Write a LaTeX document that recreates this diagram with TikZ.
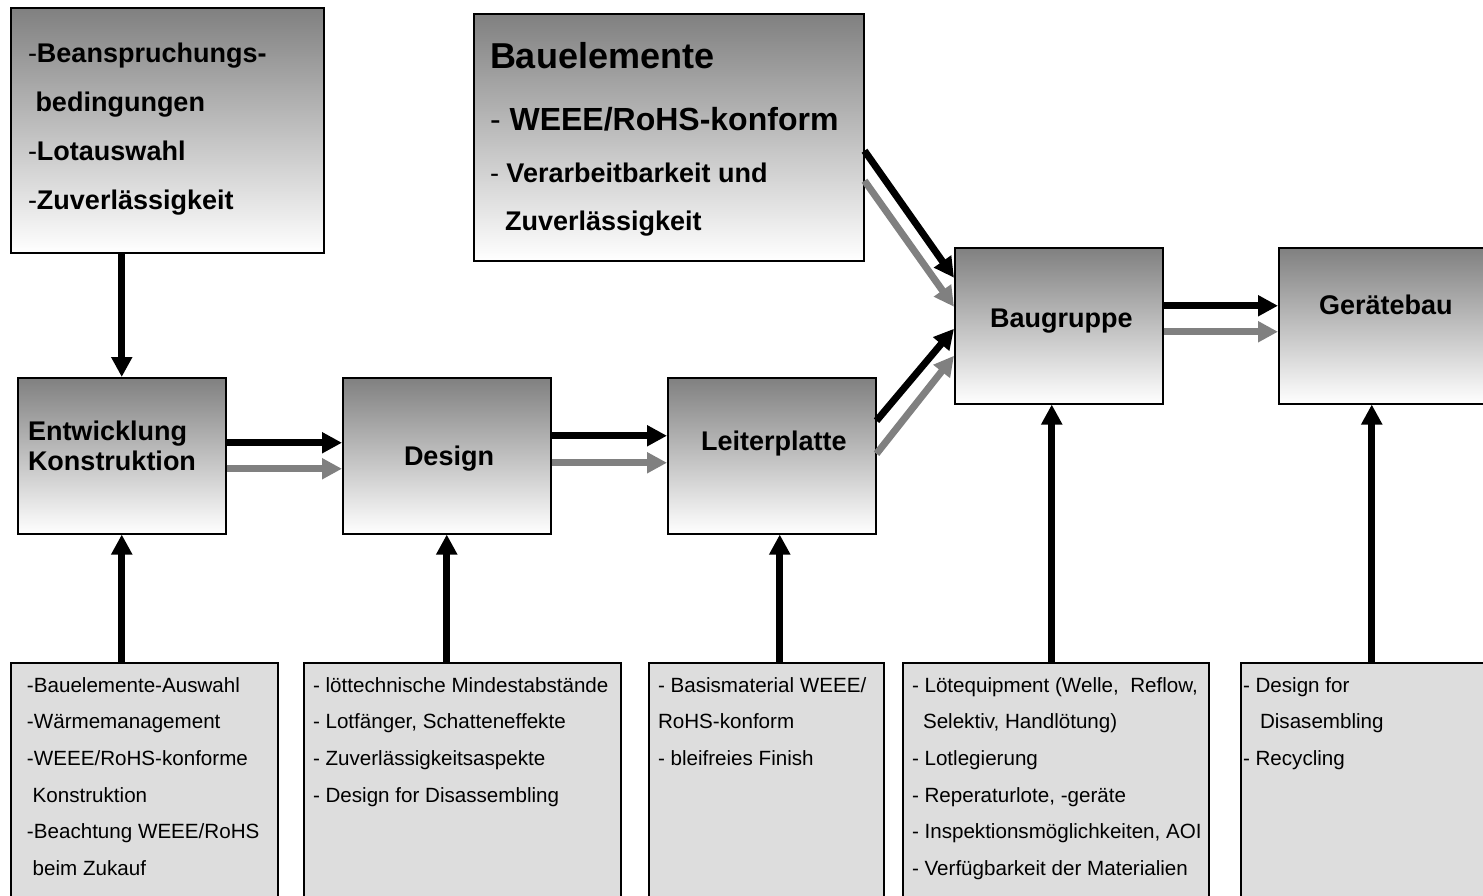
\documentclass[tikz,border=0pt]{standalone}
\usepackage{fontspec}
\setmainfont{Liberation Sans}
\usetikzlibrary{arrows.meta,calc}
\definecolor{gmid}{RGB}{128,128,128}
\definecolor{glight}{RGB}{221,221,221}
\tikzset{
  gbox/.style={draw=black, line width=1.5pt, top color=gmid, bottom color=white, inner sep=0pt, anchor=north west},
  lbox/.style={draw=black, line width=1.5pt, fill=glight, inner sep=0pt, anchor=north west},
  tx/.style={anchor=base west, inner sep=0pt, outer sep=0pt},
  big/.style={font=\fontsize{27}{49.3}\selectfont\bfseries},
  head/.style={font=\fontsize{27}{30}\selectfont\bfseries},
  small/.style={font=\fontsize{20.6}{36.7}\selectfont},
  blk/.style={line width=7pt, draw=black, -{Triangle[length=20pt,width=20pt]}},
  gry/.style={line width=7pt, draw=gmid, -{Triangle[length=20pt,width=20pt]}},
}
\begin{document}
\begin{tikzpicture}[x=1pt,y=-1pt]
\useasboundingbox (0,0) rectangle (1483,895);
\fill[white] (0,0) rectangle (1483,895);
\clip (0,0) rectangle (1483,895);

% top boxes
\node[gbox, minimum width=313pt, minimum height=245pt] (A) at (10,7) {};
\node[gbox, minimum width=390pt, minimum height=247pt] (bau) at (473,13) {};

% middle row
\node[gbox, minimum width=208pt, minimum height=156pt] (ent) at (17,377) {};
\node[gbox, minimum width=208pt, minimum height=156pt] (des) at (342,377) {};
\node[gbox, minimum width=208pt, minimum height=156pt] (lp) at (667,377) {};
\node[gbox, minimum width=208pt, minimum height=156pt] (bg) at (954,247) {};
\node[gbox, minimum width=208pt, minimum height=156pt] (gb) at (1278,247) {};

% bottom boxes
\node[lbox, minimum width=267pt, minimum height=260pt] (b1) at (10,662) {};
\node[lbox, minimum width=317pt, minimum height=260pt] (b2) at (303,662) {};
\node[lbox, minimum width=235pt, minimum height=260pt] (b3) at (648,662) {};
\node[lbox, minimum width=306pt, minimum height=260pt] (b4) at (902,662) {};
\node[lbox, minimum width=300pt, minimum height=260pt] (b5) at (1240,662) {};

% texts in top-left box
\node[tx, big] (ta) at (28,62) {\vtop{%
  \hbox{\mdseries-\bfseries Beanspruchungs-}
  \hbox{ bedingungen}
  \hbox{\mdseries-\bfseries Lotauswahl}
  \hbox{\mdseries-\bfseries Zuverl\"assigkeit}}};

% texts in Bauelemente box
\node[tx, font=\fontsize{36}{40}\selectfont\bfseries] (tb1) at (490,68) {Bauelemente};
\node[tx, font=\fontsize{32}{36}\selectfont\bfseries] (tb2) at (490,130) {\mdseries- \bfseries WEEE/RoHS-konform};
\node[tx, font=\fontsize{27}{30}\selectfont\bfseries] (tb3) at (490,182) {\mdseries- \bfseries Verarbeitbarkeit und};
\node[tx, font=\fontsize{27}{30}\selectfont\bfseries] (tb4) at (505,230) {Zuverl\"assigkeit};

% headings
\node[tx, head] (tent) at (28,440) {\vtop{\hbox{Entwicklung}\hbox{Konstruktion}}};
\node[tx, head] (tdes) at (404,465) {Design};
\node[tx, head] (tlp) at (701,450) {Leiterplatte};
\node[tx, head] (tbg) at (990,327) {Baugruppe};
\node[tx, head] (tgb) at (1319,314) {Ger\"atebau};

% bottom texts
\node[tx, small] (t1) at (27,692) {\vtop{%
  \hbox{-Bauelemente-Auswahl}
  \hbox{-W\"armemanagement}
  \hbox{-WEEE/RoHS-konforme}
  \hbox{\hspace*{5.7pt}Konstruktion}
  \hbox{-Beachtung WEEE/RoHS}
  \hbox{\hspace*{5.7pt}beim Zukauf}}};
\node[tx, small] (t2) at (313,692) {\vtop{%
  \hbox{- l\"ottechnische Mindestabst\"ande}
  \hbox{- Lotf\"anger, Schatteneffekte}
  \hbox{- Zuverl\"assigkeitsaspekte}
  \hbox{- Design for Disassembling}}};
\node[tx, small] (t3) at (658,692) {\vtop{%
  \hbox{- Basismaterial WEEE/}
  \hbox{RoHS-konform}
  \hbox{- bleifreies Finish}}};
\node[tx, small] (t4) at (912,692) {\vtop{%
  \hbox{- L\"otequipment (Welle,\ \ Reflow,}
  \hbox{\hspace*{11pt}Selektiv, Handl\"otung)}
  \hbox{- Lotlegierung}
  \hbox{- Reperaturlote, -ger\"ate}
  \hbox{- Inspektionsm\"oglichkeiten, AOI}
  \hbox{- Verf\"ugbarkeit der Materialien}}};
\node[tx, small] (t5) at (1243,692) {\vtop{%
  \hbox{- Design for}
  \hbox{\hspace*{17pt}Disasembling}
  \hbox{- Recycling}}};

% vertical arrows
\draw[blk] (ent.north |- A.south) -- (ent.north);
\draw[blk] (ent.south |- b1.north) -- (ent.south);
\draw[blk] (des.south |- b2.north) -- (des.south);
\draw[blk] ([xshift=8pt]lp.south |- b3.north) -- ([xshift=8pt]lp.south);
\draw[blk] ([xshift=-7pt]bg.south |- b4.north) -- ([xshift=-7pt]bg.south);
\draw[blk] ([xshift=-11pt]gb.south |- b5.north) -- ([xshift=-11pt]gb.south);

% horizontal arrow pairs
\draw[blk] ([yshift=13pt]ent.east) -- ([yshift=13pt]ent.east -| des.west);
\draw[gry] ([yshift=-13pt]ent.east) -- ([yshift=-13pt]ent.east -| des.west);
\draw[blk] ([yshift=20pt]des.east) -- ([yshift=20pt]des.east -| lp.west);
\draw[gry] ([yshift=-7pt]des.east) -- ([yshift=-7pt]des.east -| lp.west);
\draw[blk] ([yshift=20pt]bg.east) -- ([yshift=20pt]bg.east -| gb.west);
\draw[gry] ([yshift=-6pt]bg.east) -- ([yshift=-6pt]bg.east -| gb.west);

% diagonal arrows
\draw[blk] ([yshift=-13.5pt]bau.east) -- ([yshift=48pt]bg.west);
\draw[gry] ([yshift=-43.5pt]bau.east) -- ([yshift=19pt]bg.west);
\draw[blk] ([yshift=35pt]lp.east) -- ([yshift=-3pt]bg.west);
\draw[gry] ([yshift=2pt]lp.east) -- ([yshift=-30pt]bg.west);
\end{tikzpicture}
\end{document}
